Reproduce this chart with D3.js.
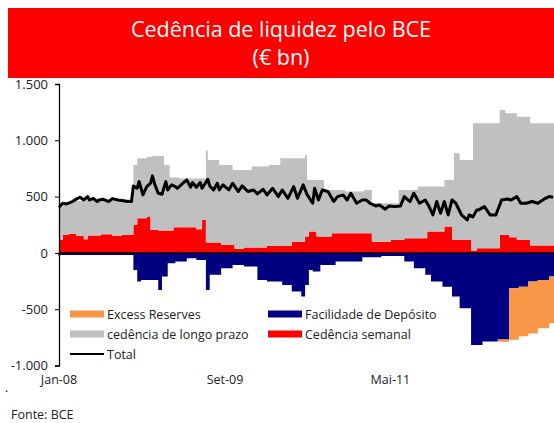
<!DOCTYPE html>
<html>
<head>
<meta charset="utf-8">
<script src="https://cdn.jsdelivr.net/npm/d3@7"></script>
<style>
body { margin: 0; background: #fff; }
svg { display: block; font-family: "Open Sans", sans-serif; }
</style>
</head>
<body>
<svg width="554" height="423"></svg>
<script>
// weeks counted from 1 Jan 2008, values in € bn
var weeks    = [0,2,5,7,9, 13,15,20,22,28, 33,39,41,43,46, 48,49,52,54,55, 57,58,60,61,63, 67,72,75,77,78, 79,84,85,91,92, 97,101,104,109,110, 116,117,122,127,129, 130,131,133,135,137, 139,143,145,150,159, 160,164,169,174,178, 181,186,188,192,193, 195,201,202,206,207, 210,216,217,219,222, 230,231,234,236,240, 241,246,247,251,257];
var weekly   = [115,160,170,170,150, 121,155,155,165,150, 160,249,308,308,323, 204,204,198,198,198, 198,198,228,228,228, 228,210,293,92,92, 92,92,71,71,36, 47,47,47,62,62, 62,62,100,100,145, 145,189,189,145,145, 145,175,175,175,175, 175,100,100,115,115, 130,130,130,130,189, 189,189,234,115,115, 115,21,21,41,41, 41,160,160,140,115, 115,115,65,65,65];
var longTerm = [295,285,275,290,310, 359,325,320,310,325, 315,532,532,532,532, 651,656,662,662,582, 582,472,442,442,432, 432,450,367,817,734, 734,689,710,666,701, 690,720,720,705,719, 778,778,740,740,725, 503,459,459,503,503, 414,384,384,370,370, 384,340,340,325,444, 429,429,459,459,400, 400,400,414,533,770, 711,805,1130,1110,1110, 1110,1110,1080,1100,1095, 1095,1095,1086,1086,1086];
var deposit  = [-18,-18,-18,-18,-18, -18,-18,-18,-18,-18, -18,-151,-255,-240,-240, -240,-240,-330,-210,-210, -92,-92,-92,-77,-77, -47,-62,-62,-330,-330, -195,-195,-136,-107,-107, -121,-121,-240,-255,-255, -255,-284,-343,-388,-284, -284,-151,-166,-166,-107, -107,-107,-77,-77,-38, -38,-38,-27,-27,-27, -77,-136,-136,-195,-195, -255,-300,-300,-388,-388, -491,-817,-817,-817,-787, -770,-770,-770,-314,-314, -300,-255,-255,-240,-210];
var excess   = [0,0,0,0,0, 0,0,0,0,0, 0,0,0,0,0, 0,0,0,0,0, 0,0,0,0,0, 0,0,0,0,0, 0,0,0,0,0, 0,0,0,0,0, 0,0,0,0,0, 0,0,0,0,0, 0,0,0,0,0, 0,0,0,0,0, 0,0,0,0,0, 0,0,0,0,0, 0,0,0,0,0, -20,-20,-20,-458,-458, -440,-460,-460,-430,-415];

var totalWeeks = [0,2,4,7,9,11,13,15,16,18,20,21,23,26,28,31,33,36,38,39,41,42,44,46,48,49,50,52,54,56,57,59,61,62,65,67,69,70,72,74,75,78,79,81,83,84,86,89,91,94,96,99,102,104,107,109,112,115,117,120,123,125,128,130,133,134,136,138,141,144,146,149,151,153,156,159,161,163,166,168,171,173,176,179,181,184,186,189,192,194,196,198,200,202,204,206,208,211,214,215,217,219,220,223,226,229,232,235,237,240,242,245,248,251,255,257,259];
var totalVals  = [405,441,435,456,477,494,470,500,470,485,456,470,477,456,482,470,465,456,456,595,574,633,515,589,619,684,619,530,521,633,559,604,589,574,619,648,583,625,583,625,574,654,595,559,619,559,604,559,619,545,595,545,559,524,565,515,574,500,559,485,589,485,604,520,441,574,470,559,545,456,500,515,470,530,441,470,470,441,417,426,388,417,411,417,500,456,530,441,470,411,337,456,352,456,337,470,441,337,293,337,320,382,382,411,337,337,470,479,470,500,441,441,456,441,485,500,494];

var tickDates  = ["2008-01-01", "2009-09-01", "2011-05-01"];
var tickLabels = ["Jan-08", "Set-09", "Mai-11"];
var yTicks = [-1000, -500, 0, 500, 1000, 1500];

var seriesKeys   = ["weekly", "longTerm", "deposit", "excess"];
var seriesColors = {weekly: "#ff0000", longTerm: "#c0c0c0", deposit: "#000080", excess: "#f79646"};

var svg = d3.select("svg");
var start = new Date(2008, 0, 1);
var lastWeek = 260;
var weekDate = function(w) { return d3.timeDay.offset(start, w * 7); };

var x = d3.scaleTime()
    .domain([start, weekDate(lastWeek)])
    .range([59, 555]);
var y = d3.scaleLinear()
    .domain([-1000, 1500])
    .range([365.5, 84]);

var pt = d3.formatLocale({decimal: ",", thousands: ".", grouping: [3], currency: ["€", ""], minus: "-"});
var fmt = pt.format(",d");

// title bar
svg.append("rect")
    .attr("x", 8).attr("y", 8)
    .attr("width", 546).attr("height", 70)
    .attr("fill", "#ff0000");
svg.append("text")
    .attr("x", 281).attr("y", 37)
    .attr("text-anchor", "middle")
    .attr("fill", "#fff")
    .attr("font-size", 21.5)
    .text("Cedência de liquidez pelo BCE");
svg.append("text")
    .attr("x", 281).attr("y", 65)
    .attr("text-anchor", "middle")
    .attr("fill", "#fff")
    .attr("font-size", 21.5)
    .text("(€ bn)");

// stacked areas
var rows = weeks.map(function(w, i) {
  return {date: weekDate(w), weekly: weekly[i], longTerm: longTerm[i], deposit: deposit[i], excess: excess[i]};
});
var last = rows[rows.length - 1];
rows.push(Object.assign({}, last, {date: weekDate(lastWeek)}));

var stack = d3.stack().keys(seriesKeys).offset(d3.stackOffsetDiverging);
var layers = stack(rows);

var area = d3.area()
    .curve(d3.curveStepAfter)
    .x(function(d) { return x(d.data.date); })
    .y0(function(d) { return y(d[0]); })
    .y1(function(d) { return y(d[1]); });

svg.append("g").selectAll("path")
    .data(layers)
    .enter().append("path")
      .attr("fill", function(d) { return seriesColors[d.key]; })
      .attr("d", area);

// zero line with ticks
svg.append("line")
    .attr("x1", 59).attr("x2", 554)
    .attr("y1", y(0)).attr("y2", y(0))
    .attr("stroke", "#000").attr("stroke-width", 1.3);
svg.append("g").selectAll("line")
    .data(tickDates)
    .enter().append("line")
      .attr("x1", function(d) { return x(new Date(d)); })
      .attr("x2", function(d) { return x(new Date(d)); })
      .attr("y1", y(0)).attr("y2", y(0) + 3)
      .attr("stroke", "#000");

// total line
var totalLine = d3.line()
    .x(function(d, i) { return x(weekDate(totalWeeks[i])); })
    .y(function(d) { return y(d); });
svg.append("path")
    .datum(totalVals)
    .attr("fill", "none")
    .attr("stroke", "#000")
    .attr("stroke-width", 3)
    .attr("stroke-linejoin", "round")
    .attr("d", totalLine);

// y axis
var yAxis = svg.append("g")
    .attr("transform", "translate(59,0)")
    .call(d3.axisLeft(y).tickValues(yTicks).tickFormat(fmt).tickSize(4).tickPadding(7));
yAxis.select(".domain").attr("stroke", "#000").attr("stroke-width", 1.3);
yAxis.selectAll(".tick line").attr("stroke", "#000");
yAxis.selectAll("text")
    .attr("font-family", "Open Sans, sans-serif")
    .attr("font-size", 13)
    .attr("fill", "#222");

// x labels
svg.append("g").selectAll("text")
    .data(tickDates)
    .enter().append("text")
      .attr("x", function(d) { return x(new Date(d)); })
      .attr("y", 384)
      .attr("text-anchor", "middle")
      .attr("font-size", 12.5)
      .attr("fill", "#222")
      .text(function(d, i) { return tickLabels[i]; });

// legend
var legendItems = [
  {label: "Excess Reserves", key: "excess", col: 0, row: 0},
  {label: "Facilidade de Depósito", key: "deposit", col: 1, row: 0},
  {label: "cedência de longo prazo", key: "longTerm", col: 0, row: 1},
  {label: "Cedência semanal", key: "weekly", col: 1, row: 1},
  {label: "Total", key: "total", col: 0, row: 2}
];
var legend = svg.append("g").selectAll("g")
    .data(legendItems)
    .enter().append("g")
      .attr("transform", function(d) { return "translate(" + (d.col ? 268 : 70) + "," + (314 + d.row * 20) + ")"; });

legend.filter(function(d) { return d.key !== "total"; })
    .append("rect")
      .attr("x", 0).attr("y", -3.5)
      .attr("width", 34).attr("height", 7)
      .attr("fill", function(d) { return seriesColors[d.key]; });
legend.filter(function(d) { return d.key === "total"; })
    .append("line")
      .attr("x1", 0).attr("x2", 34)
      .attr("stroke", "#000").attr("stroke-width", 2.2);
legend.append("text")
    .attr("x", 37).attr("y", 4.5)
    .attr("font-size", 12.5)
    .attr("fill", "#222")
    .text(function(d) { return d.label; });

// footer
svg.append("text")
    .attr("x", 5).attr("y", 392)
    .attr("font-size", 12)
    .text(".");
svg.append("text")
    .attr("x", 11).attr("y", 419)
    .attr("font-size", 12.5)
    .attr("fill", "#222")
    .text("Fonte: BCE");
</script>
</body>
</html>
